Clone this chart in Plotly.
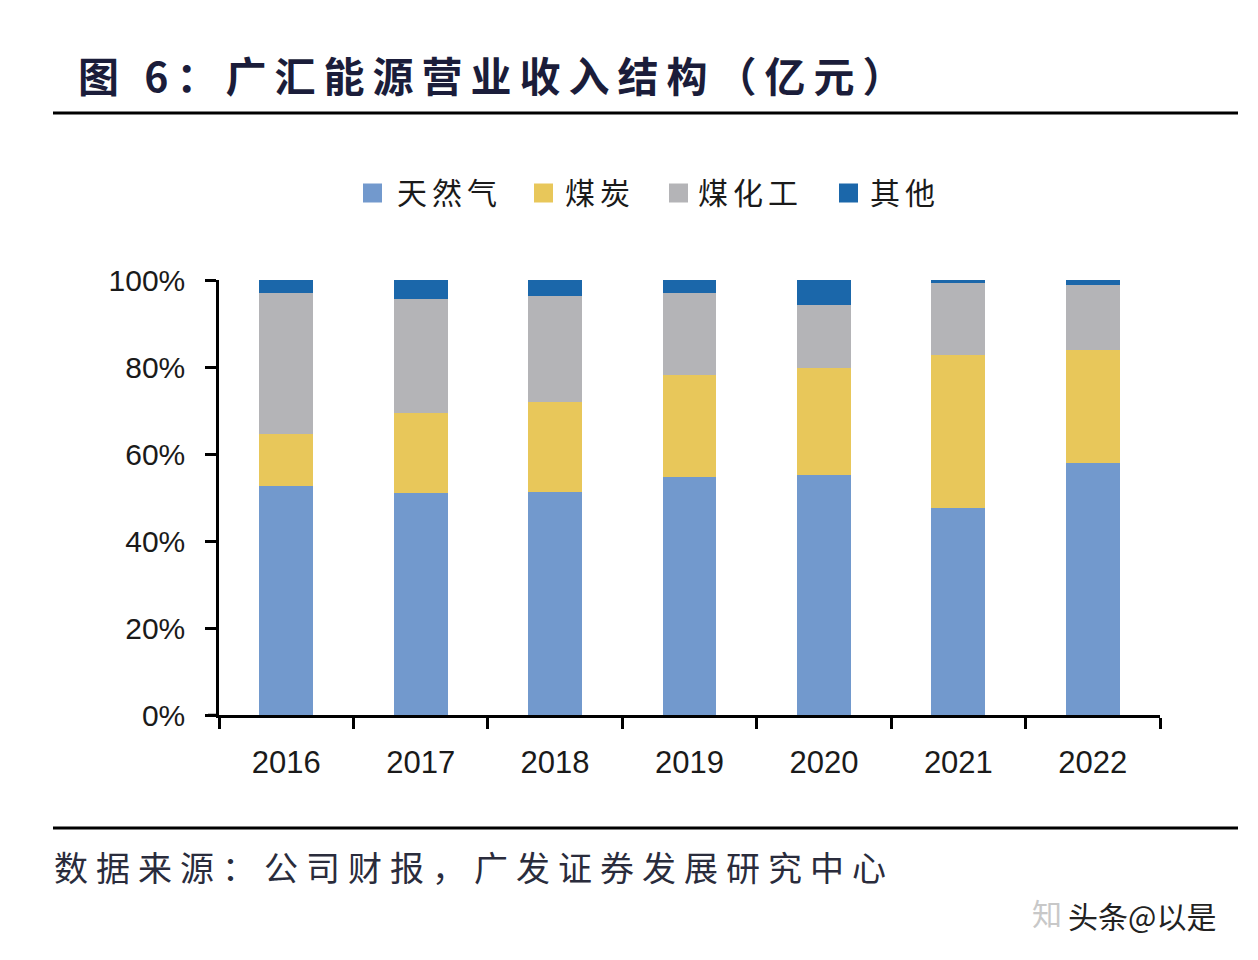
import plotly.graph_objects as go

years = ["2016", "2017", "2018", "2019", "2020", "2021", "2022"]
series_names = ["天然气", "煤炭", "煤化工", "其他"]
gas = [52.6, 51.1, 51.3, 54.6, 55.1, 47.7, 58.0]
coal = [11.9, 18.3, 20.7, 23.5, 24.6, 35.0, 25.9]
chem = [32.5, 26.3, 24.3, 19.0, 14.5, 16.5, 14.9]
other = [3.0, 4.3, 3.7, 2.9, 5.8, 0.8, 1.2]
y_ticks = [0, 20, 40, 60, 80, 100]
y_tick_text = ["0%", "20%", "40%", "60%", "80%", "100%"]
colors = ["#7299CD", "#E8C75A", "#B4B4B7", "#1B67AA"]

title_text = "图 6：广汇能源营业收入结构（亿元）"
source_text = "数据来源：公司财报，广发证券发展研究中心"

OFF = 8  # page body margin
W, H = 1258 - OFF, 960 - OFF
L, R, T, B = 219, 1160, 280, 715  # plot area in page pixels


def px(x):
    return (x - L) / (R - L)


def py(y):
    return (B - y) / (B - T)


fig = go.Figure()
for name, vals, c in zip(series_names, [gas, coal, chem, other], colors):
    fig.add_trace(go.Bar(x=years, y=vals, name=name, marker=dict(color=c, line=dict(width=0)),
                         showlegend=False))

fig.update_layout(
    width=W, height=H,
    barmode="stack", bargap=0.6,
    paper_bgcolor="white", plot_bgcolor="white",
    margin=dict(l=L - OFF, r=W - (R - OFF), t=T - OFF, b=H - (B - OFF), pad=0),
    font=dict(family="Liberation Sans, Arial, sans-serif", color="#1a1a1a"),
)
fig.update_yaxes(
    range=[0, 100], tickvals=y_ticks, ticktext=y_tick_text,
    showgrid=False, zeroline=False,
    showline=True, linecolor="black", linewidth=2.5,
    ticks="outside", ticklen=11, tickwidth=2.5, tickcolor="black",
    tickfont=dict(size=30, family="Liberation Sans, Arial", color="#1a1a1a"),
    ticklabelstandoff=14,
)
fig.update_xaxes(
    showgrid=False, zeroline=False,
    showline=True, linecolor="black", linewidth=2.5,
    ticks="outside", ticklen=11, tickwidth=2.5, tickcolor="black",
    tickson="boundaries",
    tickfont=dict(size=31, family="Liberation Sans, Arial", color="#1a1a1a"),
    ticklabelstandoff=18,
)

shapes = []
annotations = []
for yy in [113, 828]:
    shapes.append(dict(type="line", xref="paper", yref="paper",
                       x0=px(53), x1=px(1238), y0=py(yy), y1=py(yy),
                       line=dict(color="black", width=3)))
shapes.append(dict(type="line", xref="paper", yref="paper",
                   x0=px(208), x1=px(219), y0=0, y1=0,
                   line=dict(color="black", width=2.5)))

annotations.append(dict(
    xref="paper", yref="paper", x=px(76), y=py(74), xanchor="left", yanchor="middle",
    text='<span style="letter-spacing:8px">' + title_text + '</span>', showarrow=False,
    font=dict(size=41, family="Noto Sans CJK SC", color="#1b1d3a", weight="bold")))

sq_left = [363, 534, 669, 839]
txt_left = [395, 563, 696, 868]
ly = 193
for name, c, sx, tx in zip(series_names, colors, sq_left, txt_left):
    shapes.append(dict(type="rect", xref="paper", yref="paper",
                       x0=px(sx), x1=px(sx + 19), y0=py(ly + 9.5), y1=py(ly - 9.5),
                       fillcolor=c, line=dict(width=0)))
    annotations.append(dict(
        xref="paper", yref="paper", x=px(tx), y=py(ly - 2), xanchor="left", yanchor="middle",
        text='<span style="letter-spacing:5px">' + name + '</span>', showarrow=False,
        font=dict(size=30, family="Noto Sans CJK SC", color="#1a1a1a")))

annotations.append(dict(
    xref="paper", yref="paper", x=px(52), y=py(866), xanchor="left", yanchor="middle",
    text='<span style="letter-spacing:8px">' + source_text + '</span>', showarrow=False,
    font=dict(size=34, family="Noto Sans CJK SC", color="#2a2c3c")))

annotations.append(dict(
    xref="paper", yref="paper", x=px(1030), y=py(912), xanchor="left", yanchor="middle",
    text="知", showarrow=False,
    font=dict(size=30, family="Noto Sans CJK SC", color="#c8c8c8")))
annotations.append(dict(
    xref="paper", yref="paper", x=px(1066), y=py(915), xanchor="left", yanchor="middle",
    text="头条@以是", showarrow=False,
    font=dict(size=30, family="Noto Sans CJK SC", color="#222222")))

fig.update_layout(shapes=shapes, annotations=annotations)
fig.write_html("out.html")
